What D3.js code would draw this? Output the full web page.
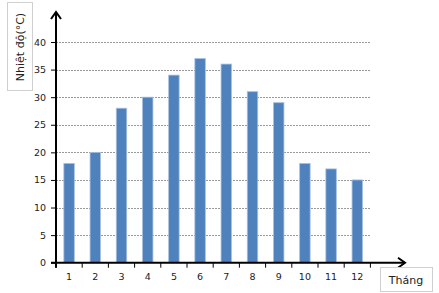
<!DOCTYPE html>
<html><head><meta charset="utf-8">
<script src="https://cdn.jsdelivr.net/npm/d3@7"></script>
<style>body{margin:0;background:#fff}svg{display:block}</style>
</head><body>
<script>
const months = ["1","2","3","4","5","6","7","8","9","10","11","12"];
const temps = [18,20,28,30,34,37,36,31,29,18,17,15];
const yTicks = [0,5,10,15,20,25,30,35,40];
const yLabel = "Nhiệt độ(°C)";
const xLabel = "Tháng";

const W=439,H=293;
const svg=d3.select("body").append("svg").attr("width",W).attr("height",H);
const x0=56, x1=370.4, y0=262.7, yTop=12;
const x=d3.scaleBand().domain(months).range([x0,x1]).paddingInner(0.6).paddingOuter(0.3);
const y=d3.scaleLinear().domain([0,40]).range([y0,42]);
const font="DejaVu Sans, Verdana, sans-serif";

// gridlines
svg.append("g").selectAll("line").data(yTicks.filter(d=>d>0)).join("line")
  .attr("x1",x0).attr("x2",x1).attr("y1",d=>Math.round(y(d))+0.5).attr("y2",d=>Math.round(y(d))+0.5)
  .attr("stroke","#9a9a9a").attr("stroke-width",1).attr("stroke-dasharray","2,1");

// bars
svg.append("g").selectAll("rect").data(temps).join("rect")
  .attr("x",(d,i)=>x(months[i])).attr("width",x.bandwidth())
  .attr("y",d=>y(d)).attr("height",d=>y0-y(d))
  .attr("fill","#4f81bd").attr("stroke","#a9c1de").attr("stroke-width",0.8);

// y axis
const ya=d3.axisLeft(y).tickValues(yTicks).tickSize(5).tickPadding(5);
const gy=svg.append("g").attr("transform",`translate(${x0},0)`).call(ya);
gy.select(".domain").remove();
gy.selectAll("text").attr("font-family",font).attr("font-size",9.5).attr("fill","#222");
gy.selectAll("line").attr("stroke","#000");

// x axis ticks at boundaries
const xa=d3.axisBottom(x).tickSize(0).tickPadding(11);
const gx=svg.append("g").attr("transform",`translate(0,${y0})`).call(xa);
gx.select(".domain").remove();
gx.selectAll("text").attr("font-family",font).attr("font-size",9.5).attr("fill","#222");
const step=x.step();
svg.append("g").selectAll("line").data(d3.range(13)).join("line")
  .attr("x1",i=>x0+i*step).attr("x2",i=>x0+i*step).attr("y1",y0).attr("y2",y0+5)
  .attr("stroke","#000").attr("stroke-width",1);

// axes lines with arrows
svg.append("line").attr("x1",x0).attr("x2",x0).attr("y1",y0+5).attr("y2",yTop).attr("stroke","#000").attr("stroke-width",2);
svg.append("path").attr("d",`M${x0-5},${yTop+7}L${x0},${yTop}L${x0+5},${yTop+7}`).attr("fill","none").attr("stroke","#000").attr("stroke-width",2);
svg.append("line").attr("x1",x0-5).attr("x2",405).attr("y1",y0).attr("y2",y0).attr("stroke","#000").attr("stroke-width",2);
svg.append("path").attr("d",`M${398},${y0-5}L${405},${y0}L${398},${y0+5}`).attr("fill","none").attr("stroke","#000").attr("stroke-width",2);

// y label box
svg.append("rect").attr("x",7.5).attr("y",2.5).attr("width",25).attr("height",88).attr("fill","#fff").attr("stroke","#d0d0d0");
svg.append("text").attr("transform","translate(24,47) rotate(-90)").attr("text-anchor","middle")
  .attr("font-family",font).attr("font-size",11).attr("fill","#222").text(yLabel);

// x label box
svg.append("rect").attr("x",380.5).attr("y",267.5).attr("width",52).attr("height",24).attr("fill","#fff").attr("stroke","#d0d0d0");
svg.append("text").attr("x",406).attr("y",284).attr("text-anchor","middle")
  .attr("font-family",font).attr("font-size",11).attr("fill","#222").text(xLabel);
</script>
</body></html>
